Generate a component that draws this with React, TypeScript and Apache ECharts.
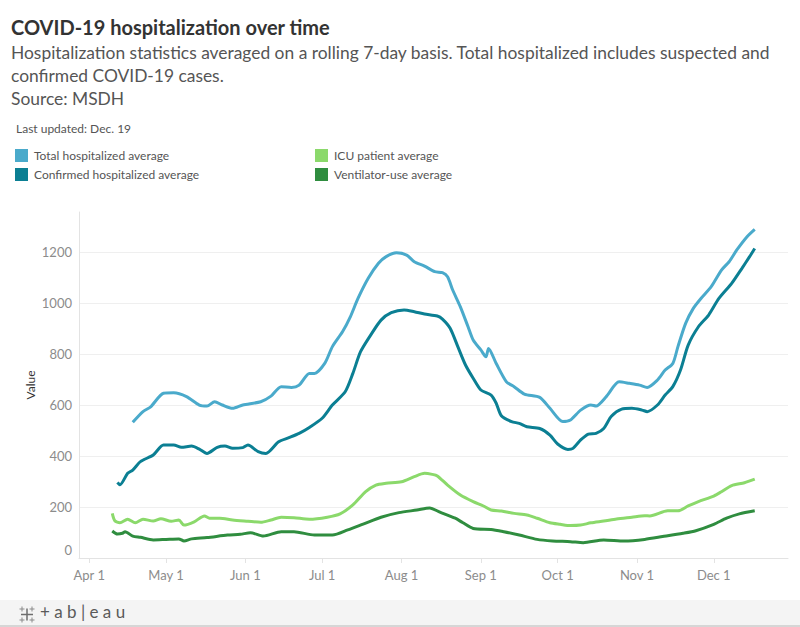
import React, { useEffect, useRef } from "react";
import * as echarts from "echarts";

const FONT = "Lato, 'Noto Sans', sans-serif";

const seriesNames = [
  "Total hospitalized average",
  "Confirmed hospitalized average",
  "ICU patient average",
  "Ventilator-use average",
];
const seriesColors = ["#4aaacb", "#0b7f93", "#8bd96b", "#2f8d3f"];

const totalHospitalized: [string, number][] = [
  ["2020-04-18", 532], ["2020-04-22", 574], ["2020-04-25", 593], ["2020-04-30", 646],
  ["2020-05-04", 648], ["2020-05-09", 633], ["2020-05-14", 600], ["2020-05-17", 596],
  ["2020-05-20", 613], ["2020-05-23", 600], ["2020-05-27", 587], ["2020-05-31", 600],
  ["2020-06-07", 613], ["2020-06-11", 635], ["2020-06-15", 672], ["2020-06-19", 669],
  ["2020-06-22", 678], ["2020-06-26", 724], ["2020-06-28", 724], ["2020-07-02", 763],
  ["2020-07-05", 829], ["2020-07-09", 888], ["2020-07-12", 946], ["2020-07-15", 1018],
  ["2020-07-19", 1097], ["2020-07-23", 1156], ["2020-07-26", 1182], ["2020-07-30", 1197],
  ["2020-08-03", 1188], ["2020-08-06", 1162], ["2020-08-10", 1145], ["2020-08-14", 1123],
  ["2020-08-17", 1119], ["2020-08-19", 1103], ["2020-08-21", 1051], ["2020-08-24", 985],
  ["2020-08-27", 907], ["2020-08-29", 855], ["2020-09-01", 816], ["2020-09-03", 789],
  ["2020-09-04", 822], ["2020-09-07", 763], ["2020-09-11", 691], ["2020-09-14", 672],
  ["2020-09-18", 643], ["2020-09-24", 630], ["2020-09-28", 587], ["2020-10-03", 535],
  ["2020-10-06", 541], ["2020-10-10", 580], ["2020-10-14", 600], ["2020-10-16", 596],
  ["2020-10-20", 633], ["2020-10-25", 691], ["2020-10-29", 685], ["2020-11-02", 678],
  ["2020-11-05", 669], ["2020-11-09", 698], ["2020-11-12", 737], ["2020-11-15", 763],
  ["2020-11-17", 829], ["2020-11-20", 920], ["2020-11-23", 979], ["2020-11-26", 1018],
  ["2020-11-30", 1064], ["2020-12-04", 1129], ["2020-12-07", 1162], ["2020-12-10", 1208],
  ["2020-12-14", 1260], ["2020-12-17", 1289],
];

const confirmedHospitalized: [string, number][] = [
  ["2020-04-12", 296], ["2020-04-13", 287], ["2020-04-16", 332], ["2020-04-18", 345],
  ["2020-04-21", 378], ["2020-04-26", 404], ["2020-04-30", 443], ["2020-05-04", 443],
  ["2020-05-07", 434], ["2020-05-11", 439], ["2020-05-14", 427], ["2020-05-17", 410],
  ["2020-05-21", 434], ["2020-05-24", 439], ["2020-05-27", 430], ["2020-05-31", 433],
  ["2020-06-02", 443], ["2020-06-06", 417], ["2020-06-09", 410], ["2020-06-14", 456],
  ["2020-06-18", 472], ["2020-06-22", 489], ["2020-06-26", 512], ["2020-07-01", 548],
  ["2020-07-05", 600], ["2020-07-10", 652], ["2020-07-13", 724], ["2020-07-16", 809],
  ["2020-07-20", 875], ["2020-07-24", 933], ["2020-07-28", 962], ["2020-08-02", 973],
  ["2020-08-06", 966], ["2020-08-10", 957], ["2020-08-15", 949], ["2020-08-17", 937],
  ["2020-08-20", 901], ["2020-08-23", 829], ["2020-08-26", 757], ["2020-08-29", 705],
  ["2020-09-01", 659], ["2020-09-05", 639], ["2020-09-07", 607], ["2020-09-09", 558],
  ["2020-09-13", 535], ["2020-09-16", 528], ["2020-09-19", 515], ["2020-09-24", 508],
  ["2020-09-28", 482], ["2020-10-01", 447], ["2020-10-05", 426], ["2020-10-07", 430],
  ["2020-10-10", 463], ["2020-10-13", 486], ["2020-10-16", 489], ["2020-10-19", 508],
  ["2020-10-22", 556], ["2020-10-26", 584], ["2020-10-30", 587], ["2020-11-03", 580],
  ["2020-11-05", 574], ["2020-11-09", 600], ["2020-11-12", 639], ["2020-11-15", 672],
  ["2020-11-18", 737], ["2020-11-21", 835], ["2020-11-25", 907], ["2020-11-29", 953],
  ["2020-12-03", 1018], ["2020-12-08", 1077], ["2020-12-12", 1136], ["2020-12-15", 1182],
  ["2020-12-17", 1214],
];

const icuPatients: [string, number][] = [
  ["2020-04-10", 175], ["2020-04-11", 146], ["2020-04-13", 138], ["2020-04-16", 152],
  ["2020-04-19", 138], ["2020-04-22", 152], ["2020-04-26", 145], ["2020-04-29", 154],
  ["2020-05-03", 144], ["2020-05-06", 149], ["2020-05-08", 129], ["2020-05-12", 142],
  ["2020-05-16", 165], ["2020-05-18", 156], ["2020-05-22", 156], ["2020-05-27", 149],
  ["2020-06-02", 144], ["2020-06-07", 140], ["2020-06-11", 149], ["2020-06-15", 160],
  ["2020-06-20", 158], ["2020-06-26", 152], ["2020-07-03", 160], ["2020-07-08", 173],
  ["2020-07-13", 208], ["2020-07-18", 260], ["2020-07-22", 286], ["2020-07-26", 293],
  ["2020-08-01", 299], ["2020-08-06", 319], ["2020-08-10", 332], ["2020-08-13", 328],
  ["2020-08-15", 322], ["2020-08-19", 286], ["2020-08-24", 247], ["2020-08-29", 221],
  ["2020-09-02", 204], ["2020-09-05", 188], ["2020-09-09", 184], ["2020-09-14", 175],
  ["2020-09-19", 169], ["2020-09-23", 156], ["2020-09-28", 138], ["2020-10-02", 132],
  ["2020-10-06", 127], ["2020-10-10", 129], ["2020-10-14", 138], ["2020-10-19", 145],
  ["2020-10-24", 153], ["2020-10-30", 160], ["2020-11-04", 166], ["2020-11-06", 165],
  ["2020-11-13", 185], ["2020-11-17", 185], ["2020-11-21", 204], ["2020-11-25", 221],
  ["2020-12-01", 243], ["2020-12-04", 260], ["2020-12-08", 284], ["2020-12-13", 295],
  ["2020-12-17", 309],
];

const ventilatorUse: [string, number][] = [
  ["2020-04-10", 106], ["2020-04-12", 94], ["2020-04-14", 97], ["2020-04-15", 103],
  ["2020-04-18", 86], ["2020-04-21", 81], ["2020-04-26", 71], ["2020-05-01", 73],
  ["2020-05-06", 75], ["2020-05-08", 67], ["2020-05-11", 75], ["2020-05-17", 80],
  ["2020-05-25", 90], ["2020-05-30", 93], ["2020-06-03", 99], ["2020-06-08", 86],
  ["2020-06-15", 103], ["2020-06-20", 103], ["2020-06-28", 90], ["2020-07-05", 90],
  ["2020-07-11", 110], ["2020-07-17", 133], ["2020-07-24", 160], ["2020-07-31", 178],
  ["2020-08-07", 188], ["2020-08-12", 196], ["2020-08-16", 180], ["2020-08-22", 156],
  ["2020-08-25", 138], ["2020-08-29", 116], ["2020-09-05", 112], ["2020-09-10", 103],
  ["2020-09-16", 90], ["2020-09-23", 73], ["2020-09-29", 67], ["2020-10-06", 64],
  ["2020-10-11", 60], ["2020-10-19", 71], ["2020-10-27", 67], ["2020-11-04", 73],
  ["2020-11-11", 84], ["2020-11-19", 97], ["2020-11-24", 107], ["2020-12-01", 132],
  ["2020-12-06", 156], ["2020-12-11", 173], ["2020-12-17", 185],
];

const seriesData = [totalHospitalized, confirmedHospitalized, icuPatients, ventilatorUse];

const titleText = "COVID-19 hospitalization over time";
const subtitleLines = [
  "Hospitalization statistics averaged on a rolling 7-day basis. Total hospitalized includes suspected and",
  "confirmed COVID-19 cases.",
  "Source: MSDH",
];
const updatedText = "Last updated: Dec. 19";
const yAxisTitle = "Value";
const monthNames = ["Jan", "Feb", "Mar", "Apr", "May", "Jun", "Jul", "Aug", "Sep", "Oct", "Nov", "Dec"];

export default function App() {
  const ref = useRef<HTMLDivElement>(null);
  useEffect(() => {
    if (!ref.current) return;
    const chart = echarts.init(ref.current, null, { renderer: "svg" });
    const legendBase = {
      orient: "vertical",
      top: 149,
      padding: 0,
      icon: "rect",
      itemWidth: 13,
      itemHeight: 13,
      itemGap: 6,
      textStyle: { fontFamily: FONT, fontSize: 12, color: "#555555", padding: [0, 0, 0, 1] },
    };
    const option: any = {
      animation: false,
      backgroundColor: "#ffffff",
      textStyle: { fontFamily: FONT },
      title: [
        {
          text: titleText,
          left: 11,
          top: 17,
          padding: 0,
          textStyle: { fontFamily: FONT, fontSize: 20, fontWeight: "bold", color: "#333333" },
        },
        {
          text: subtitleLines.join("\n"),
          left: 11,
          top: 41,
          padding: 0,
          textStyle: { fontFamily: FONT, fontSize: 17.4, fontWeight: "normal", color: "#555555", lineHeight: 23 },
        },
        {
          text: updatedText,
          left: 16,
          top: 122,
          padding: 0,
          textStyle: { fontFamily: FONT, fontSize: 12, fontWeight: "normal", color: "#555555" },
        },
      ],
      legend: [
        { ...legendBase, data: seriesNames.slice(0, 2), left: 15 },
        { ...legendBase, data: seriesNames.slice(2, 4), left: 315 },
      ],
      grid: { left: 79, right: 12, top: 212, bottom: 69, containLabel: false },
      xAxis: {
        type: "time",
        min: "2020-03-28",
        max: "2020-12-30",
        minInterval: 28 * 86400000,
        axisLine: { show: true, lineStyle: { color: "#e3e3e3", width: 1 } },
        axisTick: { show: true, length: 5, lineStyle: { color: "#e3e3e3" } },
        splitLine: { show: false },
        axisLabel: {
          fontFamily: FONT,
          fontSize: 13,
          color: "#8c8c8c",
          margin: 10,
          hideOverlap: false,
          formatter: (v: number) => {
            const d = new Date(v);
            return `${monthNames[d.getMonth()]} ${d.getDate()}`;
          },
        },
      },
      yAxis: {
        type: "value",
        min: 0,
        max: 1357,
        interval: 200,
        axisLine: { show: true, lineStyle: { color: "#e3e3e3" } },
        axisTick: { show: false },
        splitLine: { show: true, showMinLine: false, showMaxLine: false, lineStyle: { color: "#efefef", width: 1 } },
        axisLabel: {
          fontFamily: FONT,
          fontSize: 13,
          color: "#8c8c8c",
          margin: 7,
          showMaxLabel: false,
          formatter: (v: number) => (v === 0 ? "{z|0}" : String(v)),
          rich: { z: { fontFamily: FONT, fontSize: 13, color: "#8c8c8c", padding: [0, 0, 16, 0] } },
        },
      },
      series: seriesNames.map((name, i) => ({
        name,
        type: "line",
        data: seriesData[i],
        showSymbol: false,
        symbol: "none",
        smooth: 0.25,
        lineStyle: { color: seriesColors[i], width: 3 },
        itemStyle: { color: seriesColors[i] },
        z: 2 + i,
      })),
      graphic: [
        {
          type: "text",
          x: 30,
          y: 385,
          rotation: Math.PI / 2,
          style: { text: yAxisTitle, fontFamily: FONT, fontSize: 12, fill: "#333333", align: "center", verticalAlign: "middle" },
          silent: true,
        },
        { type: "rect", left: 0, top: 600, shape: { width: 800, height: 27 }, style: { fill: "#f4f4f4" }, silent: true },
        { type: "rect", left: 0, top: 625, shape: { width: 800, height: 2 }, style: { fill: "#d6d6d6" }, silent: true },
        {
          type: "group",
          left: 17,
          top: 604,
          children: [
            { type: "line", shape: { x1: 8, y1: 2, x2: 8, y2: 14 }, style: { stroke: "#6e6e6e", lineWidth: 1.5 } },
            { type: "line", shape: { x1: 2, y1: 8, x2: 14, y2: 8 }, style: { stroke: "#6e6e6e", lineWidth: 1.5 } },
            { type: "line", shape: { x1: 3, y1: 0, x2: 3, y2: 5 }, style: { stroke: "#8a8a8a", lineWidth: 1 } },
            { type: "line", shape: { x1: 0.5, y1: 2.5, x2: 5.5, y2: 2.5 }, style: { stroke: "#8a8a8a", lineWidth: 1 } },
            { type: "line", shape: { x1: 13, y1: 0, x2: 13, y2: 5 }, style: { stroke: "#8a8a8a", lineWidth: 1 } },
            { type: "line", shape: { x1: 10.5, y1: 2.5, x2: 15.5, y2: 2.5 }, style: { stroke: "#8a8a8a", lineWidth: 1 } },
            { type: "line", shape: { x1: 3, y1: 11, x2: 3, y2: 16 }, style: { stroke: "#8a8a8a", lineWidth: 1 } },
            { type: "line", shape: { x1: 0.5, y1: 13.5, x2: 5.5, y2: 13.5 }, style: { stroke: "#8a8a8a", lineWidth: 1 } },
            { type: "line", shape: { x1: 13, y1: 11, x2: 13, y2: 16 }, style: { stroke: "#8a8a8a", lineWidth: 1 } },
            { type: "line", shape: { x1: 10.5, y1: 13.5, x2: 15.5, y2: 13.5 }, style: { stroke: "#8a8a8a", lineWidth: 1 } },
          ],
        },
        {
          type: "text",
          left: 40,
          top: 603,
          style: { text: "+ a b | e a u", fontFamily: FONT, fontSize: 17, fill: "#5a5a5a" },
          silent: true,
        },
      ],
    };
    chart.setOption(option);
    return () => chart.dispose();
  }, []);
  return (
    <div
      ref={ref}
      style={{ position: "fixed", left: 0, top: 0, width: 800, height: 627 }}
    />
  );
}
